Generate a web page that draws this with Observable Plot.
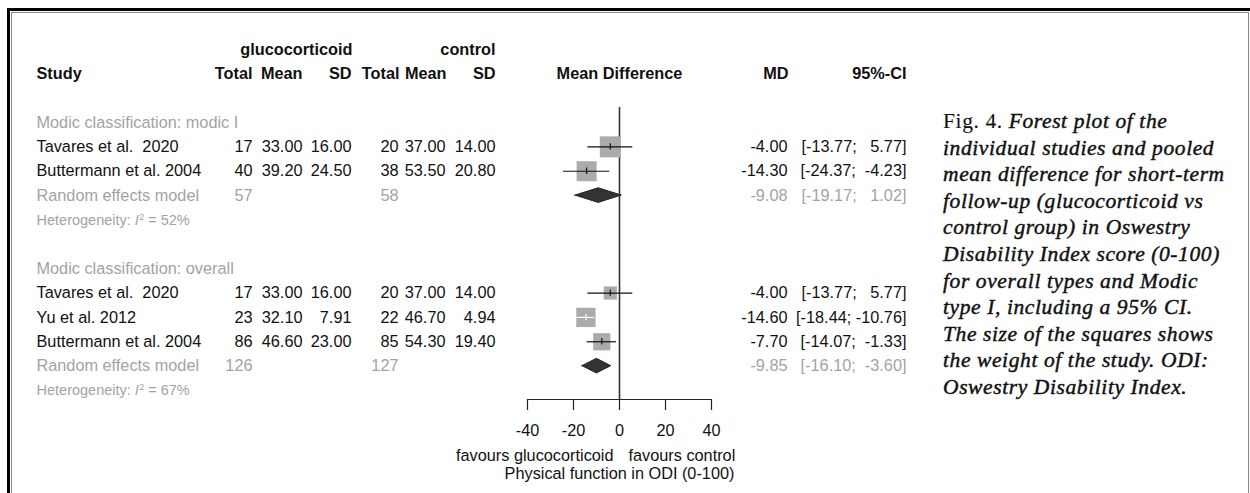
<!DOCTYPE html>
<html><head><meta charset="utf-8">
<script src="https://cdn.jsdelivr.net/npm/d3@7"></script>
<script src="https://cdn.jsdelivr.net/npm/@observablehq/plot@0.6"></script>
<style>
html,body{margin:0;padding:0;background:#fff;}
#wrap{position:relative;width:1250px;height:493px;overflow:hidden;background:#fff;}
#b1{position:absolute;left:7px;top:8px;width:1300px;height:600px;border-left:3px solid #000;border-top:3px solid #000;}
#b2{position:absolute;left:11px;top:12px;width:1236px;height:600px;border-left:1px solid #888;border-top:1px solid #888;border-right:1px solid #888;}
#chart{position:absolute;left:0;top:0;}
#cap{position:absolute;left:943px;top:108px;font-family:"Liberation Serif",serif;font-size:21.5px;line-height:26.6px;font-style:italic;letter-spacing:0.6px;color:#111;white-space:nowrap;-webkit-text-stroke:0.45px #111;}
#cap .up{font-style:normal;-webkit-text-stroke:0.1px #111;}
</style>
</head><body>
<div id="wrap">
<div id="b1"></div><div id="b2"></div>
<div id="chart"></div>
<div id="cap"><span class="up">Fig. 4.</span> Forest plot of the<br>individual studies and pooled<br>mean difference for short-term<br>follow-up (glucocorticoid vs<br>control group) in Oswestry<br>Disability Index score (0-100)<br>for overall types and Modic<br>type I, including a 95% CI.<br>The size of the squares shows<br>the weight of the study. ODI:<br>Oswestry Disability Index.</div>
</div>
<script>
// ---- data ----
const groups = ["modic I", "overall"];
const groupLabels = ["Modic classification: modic I", "Modic classification: overall"];
const studyNames = ["Tavares et al.  2020", "Buttermann et al. 2004", "Tavares et al.  2020", "Yu et al. 2012", "Buttermann et al. 2004"];
const studyGroup = ["modic I", "modic I", "overall", "overall", "overall"];
const nE = [17, 40, 17, 23, 86];
const meanE = [33.00, 39.20, 33.00, 32.10, 46.60];
const sdE = [16.00, 24.50, 16.00, 7.91, 23.00];
const nC = [20, 38, 20, 22, 85];
const meanC = [37.00, 53.50, 37.00, 46.70, 54.30];
const sdC = [14.00, 20.80, 14.00, 4.94, 19.40];
const md = [-4.00, -14.30, -4.00, -14.60, -7.70];
const ciLo = [-13.77, -24.37, -13.77, -18.44, -14.07];
const ciHi = [5.77, -4.23, 5.77, -10.76, -1.33];
const weight = [52.4, 47.6, 20.6, 44.1, 35.3];
const poolNE = [57, 126];
const poolNC = [58, 127];
const poolMD = [-9.08, -9.85];
const poolLo = [-19.17, -16.10];
const poolHi = [1.02, -3.60];
const hetI2 = [52, 67];
const xTicks = [-40, -20, 0, 20, 40];
const xDomain = [-40, 40];

// ---- layout (rows) ----
const studies = [], pooled = [], glabels = [], hets = [];
let r = 0;
groups.forEach((g, gi) => {
  glabels.push({row: r, text: groupLabels[gi]});
  studyNames.forEach((s, i) => {
    if (studyGroup[i] !== g) return;
    r += 1;
    studies.push({row: r, name: s, nE: nE[i], meanE: meanE[i], sdE: sdE[i], nC: nC[i], meanC: meanC[i], sdC: sdC[i],
      md: md[i], lo: ciLo[i], hi: ciHi[i], w: weight[i]});
  });
  r += 1;
  pooled.push({row: r, g, nE: poolNE[gi], nC: poolNC[gi], md: poolMD[gi], lo: poolLo[gi], hi: poolHi[gi]});
  r += 1;
  hets.push({row: r, text: `Heterogeneity: I2 = ${hetI2[gi]}%`});
  r += 2;
});

const f2 = v => v.toFixed(2);
const ci = (lo, hi) => ("[" + f2(lo).padStart(6, " ") + "; " + f2(hi).padStart(6, " ") + "]").replace(/ /g, "\u00A0");

const X_RANGE = [527, 711];
const R_MAX = 11.85, W_MAX = d3.max(weight);
const pxPerUnit = (X_RANGE[1] - X_RANGE[0]) / (xDomain[1] - xDomain[0]);
studies.forEach(d => {
  const half = Math.sqrt(Math.PI) * R_MAX * Math.sqrt(d.w / W_MAX) / 2 / pxPerUnit;
  d.inside = d.lo >= d.md - half && d.hi <= d.md + half;
});

const H = 0.3; // diamond half height (rows)
const diamonds = pooled.flatMap(p => [
  {g: p.g, x: p.lo, y1: p.row, y2: p.row},
  {g: p.g, x: p.md, y1: p.row - H, y2: p.row + H},
  {g: p.g, x: p.hi, y1: p.row, y2: p.row}
]);

const BLACK = "#111", GRAY = "#a3a3a3";
const AXIS_ROW = 11.37;

const col = (data, text, dx, o = {}) => Plot.text(data, {y: "row", text, frameAnchor: "left", dx, textAnchor: "end", fill: BLACK, ...o});
const head = (text, dx, row, o = {}) => Plot.text([text], {y: () => row, text: d => d, frameAnchor: "left", dx, textAnchor: "end", fontWeight: "bold", fill: BLACK, ...o});

const plot = Plot.plot({
  width: 1250, height: 493, margin: 0,
  x: {domain: xDomain, range: X_RANGE, axis: null},
  y: {domain: [0, 11], range: [122, 390], axis: null},
  r: {type: "sqrt", domain: [0, W_MAX], range: [0, R_MAX]},
  style: {fontFamily: "'Liberation Sans', Arial, sans-serif", fontSize: "16.3px", background: "transparent", overflow: "visible"},
  marks: [
    // headers
    head("glucocorticoid", 352, -3),
    head("control", 495, -3),
    head("Study", 36, -2, {textAnchor: "start"}),
    head("Total", 252, -2), head("Mean", 302, -2), head("SD", 351, -2),
    head("Total", 399, -2), head("Mean", 446, -2), head("SD", 495, -2),
    Plot.text(["Mean Difference"], {x: () => 0, y: () => -2, text: d => d, fontWeight: "bold", fill: BLACK}),
    head("MD", 788, -2), head("95%-CI", 906, -2),
    // group labels
    Plot.text(glabels, {y: "row", text: "text", frameAnchor: "left", dx: 36, textAnchor: "start", fill: GRAY}),
    // studies
    Plot.text(studies, {y: "row", text: "name", frameAnchor: "left", dx: 36, textAnchor: "start", fill: BLACK}),
    col(studies, "nE", 252), col(studies, d => f2(d.meanE), 302), col(studies, d => f2(d.sdE), 351),
    col(studies, "nC", 398), col(studies, d => f2(d.meanC), 445), col(studies, d => f2(d.sdC), 495),
    col(studies, d => f2(d.md), 787), col(studies, d => ci(d.lo, d.hi), 906),
    // pooled
    Plot.text(pooled, {y: "row", text: () => "Random effects model", frameAnchor: "left", dx: 36, textAnchor: "start", fill: GRAY}),
    col(pooled, "nE", 252, {fill: GRAY}), col(pooled, "nC", 398, {fill: GRAY}),
    col(pooled, d => f2(d.md), 787, {fill: GRAY}), col(pooled, d => ci(d.lo, d.hi), 906, {fill: GRAY}),
    // heterogeneity
    Plot.text(hets, {y: "row", text: "text", frameAnchor: "left", dx: 36, textAnchor: "start", fill: GRAY, fontSize: 14.5}),
    // zero line
    Plot.ruleX([0], {y1: -0.62, y2: AXIS_ROW, stroke: "#333", strokeWidth: 1.6}),
    // squares
    Plot.dot(studies, {x: "md", y: "row", r: "w", symbol: "square", fill: "#ababab", stroke: "none"}),
    // CI lines
    Plot.ruleY(studies.filter(d => !d.inside), {y: "row", x1: "lo", x2: "hi", stroke: "#111", strokeWidth: 1.2}),
    Plot.ruleY(studies.filter(d => d.inside), {y: "row", x1: "lo", x2: "hi", stroke: "#fff", strokeWidth: 1.2}),
    Plot.ruleX(studies, {x: "md", y1: d => d.row - 0.13, y2: d => d.row + 0.13, stroke: d => d.inside ? "#fff" : "#111", strokeWidth: 1.2}),
    // diamonds
    Plot.areaY(diamonds, {x: "x", y1: "y1", y2: "y2", z: "g", fill: "#333", stroke: "#222", strokeWidth: 1}),
    // axis
    Plot.ruleY([AXIS_ROW], {x1: xDomain[0], x2: xDomain[1], stroke: "#222", strokeWidth: 1.2}),
    Plot.ruleX(xTicks, {x: d => d, y1: AXIS_ROW, y2: AXIS_ROW + 0.45, stroke: "#222", strokeWidth: 1.2}),
    Plot.text(xTicks, {x: d => d, y: () => 12.64, text: d => String(d), fill: BLACK}),
    Plot.text(["favours glucocorticoid"], {x: () => 0, y: () => 13.67, text: d => d, dx: -6, textAnchor: "end", fill: BLACK}),
    Plot.text(["favours control"], {x: () => 0, y: () => 13.67, text: d => d, dx: 9, textAnchor: "start", fill: BLACK}),
    Plot.text(["Physical function in ODI (0-100)"], {x: () => 0, y: () => 14.4, text: d => d, fill: BLACK})
  ]
});
document.getElementById("chart").appendChild(plot);

// italic I with superscript 2 in heterogeneity labels
const NS = "http://www.w3.org/2000/svg";
plot.querySelectorAll("text").forEach(t => {
  const s = t.textContent;
  const m = s.match(/^Heterogeneity: I2 = (.*)$/);
  if (!m) return;
  t.textContent = "";
  const a = document.createElementNS(NS, "tspan"); a.textContent = "Heterogeneity: ";
  const b = document.createElementNS(NS, "tspan"); b.textContent = "I"; b.setAttribute("font-style", "italic");
  const c = document.createElementNS(NS, "tspan"); c.textContent = "2"; c.setAttribute("font-size", "9.5"); c.setAttribute("dy", "-5");
  const e = document.createElementNS(NS, "tspan"); e.textContent = " = " + m[1]; e.setAttribute("dy", "5");
  t.append(a, b, c, e);
});
</script>
</body></html>
